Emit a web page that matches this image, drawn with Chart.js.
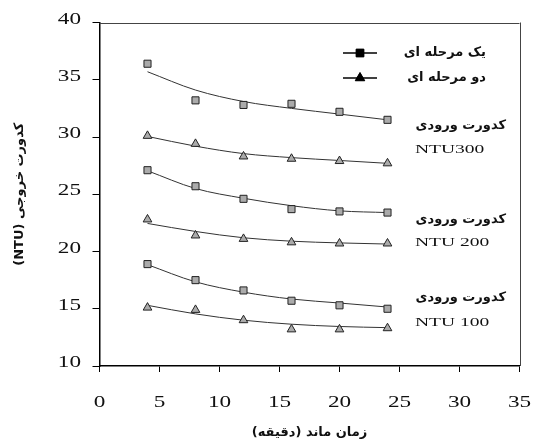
<!DOCTYPE html>
<html>
<head>
<meta charset="utf-8">
<script src="https://cdn.jsdelivr.net/npm/chart.js@4.4.1/dist/chart.umd.min.js"></script>
<style>
  html, body { margin: 0; padding: 0; background: #fff; }
  #wrap { position: relative; width: 533px; height: 442px; }
</style>
</head>
<body>
<div id="wrap"><canvas id="chart" width="533" height="442"></canvas></div>
<script>
// زمان ماند (دقیقه)
const timeMin = [4, 8, 12, 16, 20, 24];

// نقاط اندازه گیری شده
const oneStage300 = [36.4, 33.2, 32.8, 32.9, 32.2, 31.5];
const twoStage300 = [30.1, 29.4, 28.3, 28.1, 27.9, 27.7];
const oneStage200 = [27.1, 25.7, 24.6, 23.7, 23.5, 23.4];
const twoStage200 = [22.8, 21.4, 21.1, 20.8, 20.7, 20.7];
const oneStage100 = [18.9, 17.5, 16.6, 15.7, 15.3, 15.0];
const twoStage100 = [15.1, 14.9, 14.0, 13.2, 13.2, 13.3];

// خطوط روند (خوانده شده از تصویر)
const trendOne300 = [35.7, 34.1, 33.1, 32.5, 32.0, 31.5];
const trendTwo300 = [30.05, 29.2, 28.55, 28.2, 27.95, 27.7];
const trendOne200 = [27.05, 25.5, 24.65, 24.0, 23.55, 23.4];
const trendTwo200 = [22.45, 21.75, 21.2, 20.9, 20.75, 20.65];
const trendOne100 = [18.85, 17.35, 16.45, 15.85, 15.5, 15.15];
const trendTwo100 = [15.3, 14.55, 14.0, 13.65, 13.45, 13.35];

const xTicks = [0, 5, 10, 15, 20, 25, 30, 35];
const yTicks = [10, 15, 20, 25, 30, 35, 40];

const legendLabels = ['یک مرحله ای', 'دو مرحله ای'];
const inletLabel = 'کدورت ورودی';
const inletValues = ['NTU300', 'NTU 200', 'NTU 100'];
const xTitle = 'زمان ماند (دقیقه)';
const yTitle = '(NTU) کدورت خروجی';

const toPts = ys => timeMin.map((x, i) => ({ x: x, y: ys[i] }));

const markerFill = '#ababab';
const markerLine = '#222';
const persianFont = 'bold 13px "DejaVu Sans"';
const latinFont = '"Liberation Serif", serif';

function pointSet(label, ys, style) {
  return {
    label: label,
    data: toPts(ys),
    showLine: false,
    pointStyle: style,
    pointRadius: 5,
    pointBackgroundColor: markerFill,
    pointBorderColor: markerLine,
    pointBorderWidth: 1,
    order: 1
  };
}

function trendSet(ys) {
  return {
    data: toPts(ys),
    showLine: true,
    borderColor: '#333',
    borderWidth: 1,
    pointRadius: 0,
    cubicInterpolationMode: 'monotone',
    fill: false,
    order: 2
  };
}

// متن کشیده شده (فونت پهن مثل اصل)
function wideText(ctx, text, x, y, font, align, stretch) {
  ctx.save();
  ctx.font = font;
  ctx.fillStyle = '#111';
  ctx.textBaseline = 'middle';
  ctx.textAlign = align;
  ctx.translate(x, y);
  ctx.scale(stretch, 1);
  ctx.fillText(text, 0, 0);
  ctx.restore();
}

function persianText(ctx, text, x, y, align, dir) {
  ctx.save();
  ctx.font = persianFont;
  ctx.fillStyle = '#111';
  ctx.textAlign = align;
  ctx.textBaseline = 'middle';
  ctx.direction = dir || 'rtl';
  ctx.fillText(text, x, y);
  ctx.restore();
}

const decorPlugin = {
  id: 'decor',
  afterDraw(chart) {
    const ctx = chart.ctx;
    const xs = chart.scales.x;
    const ys = chart.scales.y;
    const area = chart.chartArea;

    // قاب بالا و راست
    ctx.save();
    ctx.strokeStyle = '#444';
    ctx.lineWidth = 1;
    ctx.beginPath();
    ctx.moveTo(area.left, Math.round(area.top) + 0.5);
    ctx.lineTo(area.right, Math.round(area.top) + 0.5);
    ctx.moveTo(Math.round(area.right) + 0.5, area.top);
    ctx.lineTo(Math.round(area.right) + 0.5, area.bottom);
    ctx.stroke();
    ctx.restore();

    // برچسب محورها
    yTicks.forEach(v => {
      wideText(ctx, String(v), 81, ys.getPixelForValue(v) - 3, '16px ' + latinFont, 'right', 1.45);
    });
    xTicks.forEach(v => {
      wideText(ctx, String(v), xs.getPixelForValue(v), 403, '16px ' + latinFont, 'center', 1.45);
    });

    // عنوان محورها
    persianText(ctx, xTitle, (area.left + area.right) / 2, 433, 'center', 'rtl');
    ctx.save();
    ctx.translate(20, (area.top + area.bottom) / 2);
    ctx.rotate(-Math.PI / 2);
    persianText(ctx, yTitle, 0, 0, 'center', 'ltr');
    ctx.restore();

    // راهنما
    const legendY = [53, 78];
    const styles = ['rect', 'triangle'];
    legendY.forEach((y, i) => {
      ctx.save();
      ctx.strokeStyle = '#000';
      ctx.lineWidth = 1.5;
      ctx.beginPath();
      ctx.moveTo(343, y);
      ctx.lineTo(377, y);
      ctx.stroke();
      ctx.fillStyle = '#000';
      ctx.lineWidth = 1;
      Chart.helpers.drawPoint(ctx, { pointStyle: styles[i], radius: 5.5, borderWidth: 1 }, 360, y);
      ctx.fill();
      ctx.restore();
      persianText(ctx, legendLabels[i], 486, y, 'right', 'rtl');
    });

    // کدورت ورودی
    const noteY = [[126, 150], [220, 243], [298, 323]];
    noteY.forEach((pair, i) => {
      persianText(ctx, inletLabel, 506, pair[0], 'right', 'rtl');
      wideText(ctx, inletValues[i], 415, pair[1], '13px ' + latinFont, 'left', 1.5);
    });
  }
};

new Chart(document.getElementById('chart'), {
  type: 'scatter',
  data: {
    datasets: [
      pointSet(legendLabels[0], oneStage300, 'rect'),
      pointSet(legendLabels[1], twoStage300, 'triangle'),
      pointSet(legendLabels[0], oneStage200, 'rect'),
      pointSet(legendLabels[1], twoStage200, 'triangle'),
      pointSet(legendLabels[0], oneStage100, 'rect'),
      pointSet(legendLabels[1], twoStage100, 'triangle'),
      trendSet(trendOne300),
      trendSet(trendTwo300),
      trendSet(trendOne200),
      trendSet(trendTwo200),
      trendSet(trendOne100),
      trendSet(trendTwo100)
    ]
  },
  options: {
    responsive: false,
    animation: false,
    layout: { padding: { left: 0, right: 13.5, top: 22.5, bottom: 0 } },
    scales: {
      x: {
        type: 'linear',
        min: 0,
        max: 35,
        ticks: { display: false, stepSize: 5 },
        grid: { display: true, drawOnChartArea: false, drawTicks: true, tickLength: 6, color: '#000' },
        border: { display: true, color: '#000', width: 1.5 },
        afterFit: s => { s.height = 76; }
      },
      y: {
        min: 10,
        max: 40,
        ticks: { display: false, stepSize: 5 },
        grid: { display: true, drawOnChartArea: false, drawTicks: true, tickLength: 7, color: '#000' },
        border: { display: true, color: '#000', width: 1.5 },
        afterFit: s => { s.width = 99.5; }
      }
    },
    plugins: {
      legend: { display: false },
      tooltip: { enabled: false }
    }
  },
  plugins: [decorPlugin]
});
</script>
</body>
</html>
